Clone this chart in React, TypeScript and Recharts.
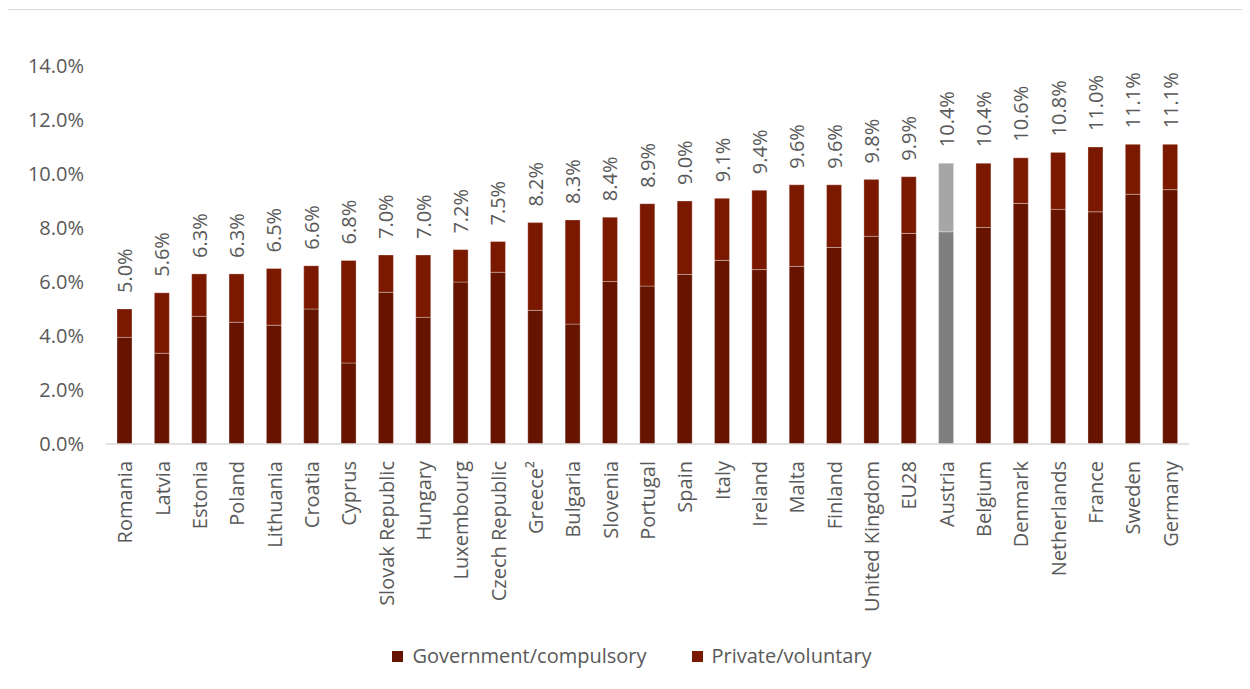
import React from 'react';
import { BarChart, Bar, XAxis, YAxis, Legend, LabelList, Cell } from 'recharts';

// health expenditure as % of GDP, split by financing scheme
const countries = [
  'Romania', 'Latvia', 'Estonia', 'Poland', 'Lithuania', 'Croatia', 'Cyprus',
  'Slovak Republic', 'Hungary', 'Luxembourg', 'Czech Republic', 'Greece²',
  'Bulgaria', 'Slovenia', 'Portugal', 'Spain', 'Italy', 'Ireland', 'Malta',
  'Finland', 'United Kingdom', 'EU28', 'Austria', 'Belgium', 'Denmark',
  'Netherlands', 'France', 'Sweden', 'Germany',
];
const government = [
  3.95, 3.36, 4.73, 4.51, 4.4, 5.0, 3.0,
  5.62, 4.69, 6.0, 6.36, 4.95,
  4.44, 6.02, 5.85, 6.28, 6.8, 6.46, 6.58,
  7.28, 7.69, 7.8, 7.86, 8.02, 8.91,
  8.69, 8.6, 9.25, 9.42,
];
const privateVoluntary = [
  1.05, 2.24, 1.57, 1.79, 2.1, 1.6, 3.8,
  1.38, 2.31, 1.2, 1.14, 3.25,
  3.86, 2.38, 3.05, 2.72, 2.3, 2.94, 3.02,
  2.32, 2.11, 2.1, 2.54, 2.38, 1.69,
  2.11, 2.4, 1.85, 1.68,
];
const yTicks = [0, 2, 4, 6, 8, 10, 12, 14];
const seriesNames = ['Government/compulsory', 'Private/voluntary'];

const GOV = '#661400';
const PRIV = '#7b1900';
const AT_GOV = '#7f7f7f';
const AT_PRIV = '#a6a6a6';
const TEXT = '#595959';
const FONT = '"Open Sans", sans-serif';
const HIGHLIGHT = 'Austria';

const data = countries.map((name, i) => ({
  name,
  gov: government[i],
  priv: privateVoluntary[i],
  total: government[i] + privateVoluntary[i],
}));

const CountryTick = (props: any) => {
  const { x, y, payload } = props;
  return (
    <text
      transform={`translate(${x},${y + 17}) rotate(-90)`}
      textAnchor="end"
      dominantBaseline="central"
      fill={TEXT}
      fontSize={20}
      fontFamily={FONT}
    >
      {payload.value}
    </text>
  );
};

const TotalLabel = (props: any) => {
  const { x, y, width, value } = props;
  return (
    <text
      transform={`translate(${x + width / 2},${y - 16}) rotate(-90)`}
      textAnchor="start"
      dominantBaseline="central"
      fill={TEXT}
      fontSize={20}
      fontFamily={FONT}
    >
      {`${Number(value).toFixed(1)}%`}
    </text>
  );
};

const LegendContent = () => (
  <div
    style={{
      display: 'flex',
      justifyContent: 'center',
      alignItems: 'center',
      gap: 45,
      fontFamily: FONT,
      fontSize: 20,
      color: TEXT,
      lineHeight: '28px',
    }}
  >
    {seriesNames.map((label, i) => (
      <div key={label} style={{ display: 'flex', alignItems: 'center', gap: 9 }}>
        <span style={{ display: 'inline-block', width: 11, height: 11, background: i === 0 ? GOV : PRIV }} />
        {label}
      </div>
    ))}
  </div>
);

export default function App() {
  return (
    <div
      style={{
        position: 'relative',
        left: -1,
        top: 1,
        width: 1250,
        height: 680,
        border: '1px solid #d9d9d9',
        boxSizing: 'border-box',
        background: '#fff',
      }}
    >
      <BarChart
        width={1248}
        height={678}
        data={data}
        margin={{ top: 56, right: 67, left: 0, bottom: 18 }}
      >
        <YAxis
          width={98}
          domain={[0, 14]}
          ticks={yTicks}
          axisLine={false}
          tickLine={false}
          tickSize={0}
          tickMargin={22}
          tickFormatter={(v: number) => `${v.toFixed(1)}%`}
          tick={{ fill: TEXT, fontSize: 20, fontFamily: FONT }}
        />
        <XAxis
          dataKey="name"
          interval={0}
          height={198}
          tickLine={false}
          tickSize={0}
          tickMargin={0}
          axisLine={{ stroke: '#d9d9d9', strokeWidth: 1.5 }}
          tick={<CountryTick />}
        />
        <Legend
          verticalAlign="bottom"
          content={<LegendContent />}
          wrapperStyle={{ left: 0, width: 1248 }}
        />
        <Bar dataKey="gov" stackId="a" barSize={15} fill={GOV} stroke="#ffffff" strokeOpacity={0.3} strokeWidth={1} isAnimationActive={false}>
          {data.map((d) => (
            <Cell key={d.name} fill={d.name === HIGHLIGHT ? AT_GOV : GOV} />
          ))}
        </Bar>
        <Bar dataKey="priv" stackId="a" barSize={15} fill={PRIV} stroke="#ffffff" strokeOpacity={0.3} strokeWidth={1} isAnimationActive={false}>
          {data.map((d) => (
            <Cell key={d.name} fill={d.name === HIGHLIGHT ? AT_PRIV : PRIV} />
          ))}
          <LabelList dataKey="total" content={<TotalLabel />} />
        </Bar>
      </BarChart>
    </div>
  );
}
